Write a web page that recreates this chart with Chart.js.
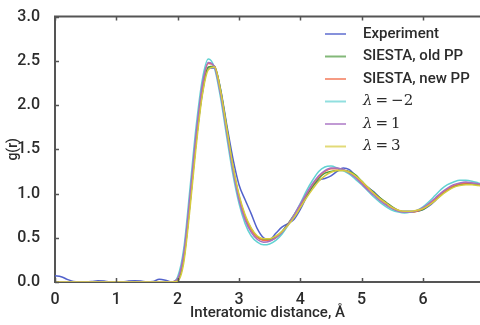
<!DOCTYPE html>
<html>
<head>
<meta charset="utf-8">
<script src="https://cdn.jsdelivr.net/npm/chart.js@4/dist/chart.umd.min.js"></script>
<style>
  html, body { margin: 0; padding: 0; background: #fff; }
  #wrap { width: 480px; height: 325px; }
</style>
</head>
<body>
<div id="wrap"><canvas id="myChart" width="480" height="325"></canvas></div>
<script>
// interatomic distance r (Å)
const rValues = [
  0.0,0.1,0.2,0.3,0.4,0.5,0.6,0.7,0.8,0.9,
  1.0,1.1,1.2,1.3,1.4,1.5,1.6,1.7,1.8,1.9,
  2.0,2.1,2.2,2.3,2.4,2.5,2.6,2.7,2.8,2.9,
  3.0,3.1,3.2,3.3,3.4,3.5,3.6,3.7,3.8,3.9,
  4.0,4.1,4.2,4.3,4.4,4.5,4.6,4.7,4.8,4.9,
  5.0,5.1,5.2,5.3,5.4,5.5,5.6,5.7,5.8,5.9,
  6.0,6.1,6.2,6.3,6.4,6.5,6.6,6.7,6.8,6.9,7.0
];

const experiment = [
  0.07,0.06,0.03,0.005,0,0,0.005,0.015,0.01,0,
  0,0,0.01,0.015,0.01,0,0.005,0.03,0.02,0,
  0.03,0.28,0.88,1.58,2.12,2.42,2.42,2.18,1.78,1.40,
  1.10,0.93,0.77,0.60,0.50,0.48,0.55,0.62,0.66,0.71,
  0.82,0.96,1.08,1.15,1.17,1.20,1.25,1.29,1.27,1.20,
  1.13,1.07,1.02,0.95,0.88,0.83,0.80,0.80,0.80,0.80,
  0.82,0.86,0.92,0.99,1.04,1.08,1.10,1.11,1.11,1.10,1.09
];
const siestaOld = [
  0,0,0,0,0,0,0,0,0,0,
  0,0,0,0,0,0,0,0,0,0,
  0.02,0.26,0.88,1.58,2.14,2.43,2.44,2.17,1.75,1.31,
  0.97,0.74,0.60,0.51,0.48,0.48,0.51,0.57,0.66,0.76,
  0.87,0.98,1.08,1.17,1.23,1.25,1.26,1.26,1.25,1.21,
  1.14,1.07,1.01,0.95,0.90,0.85,0.81,0.79,0.79,0.80,
  0.82,0.87,0.93,0.99,1.04,1.08,1.10,1.11,1.11,1.10,1.09
];
const siestaNew = [
  0,0,0,0,0,0,0,0,0,0,
  0,0,0,0,0,0,0,0,0,0,
  0.04,0.32,0.95,1.65,2.20,2.47,2.44,2.14,1.71,1.28,
  0.95,0.72,0.58,0.50,0.47,0.47,0.50,0.56,0.65,0.75,
  0.87,0.99,1.10,1.19,1.25,1.28,1.28,1.27,1.24,1.19,
  1.12,1.06,1.00,0.94,0.89,0.84,0.81,0.79,0.79,0.80,
  0.83,0.88,0.94,1.00,1.05,1.09,1.11,1.12,1.12,1.11,1.10
];
const lambdaM2 = [
  0,0,0,0,0,0,0,0,0,0,
  0,0,0,0,0,0,0,0,0,0,
  0.06,0.38,1.05,1.75,2.28,2.52,2.42,2.08,1.64,1.22,
  0.89,0.66,0.52,0.45,0.42,0.43,0.47,0.54,0.64,0.76,
  0.89,1.03,1.15,1.25,1.30,1.31,1.29,1.26,1.22,1.16,
  1.10,1.03,0.96,0.90,0.85,0.81,0.79,0.78,0.79,0.81,
  0.85,0.91,0.98,1.05,1.10,1.13,1.15,1.15,1.14,1.12,1.10
];
const lambda1 = [
  0,0,0,0,0,0,0,0,0,0,
  0,0,0,0,0,0,0,0,0,0,
  0.04,0.33,0.97,1.67,2.22,2.48,2.43,2.12,1.69,1.27,
  0.93,0.70,0.56,0.48,0.45,0.46,0.50,0.56,0.65,0.76,
  0.88,1.00,1.11,1.20,1.26,1.29,1.29,1.27,1.23,1.18,
  1.11,1.04,0.98,0.92,0.87,0.83,0.80,0.79,0.79,0.81,
  0.84,0.89,0.95,1.01,1.06,1.10,1.12,1.13,1.12,1.11,1.10
];
const lambda3 = [
  0,0,0,0,0,0,0,0,0,0,
  0,0,0,0,0,0,0,0,0,0,
  0.01,0.22,0.82,1.52,2.10,2.40,2.43,2.16,1.74,1.32,
  0.99,0.76,0.61,0.52,0.49,0.49,0.52,0.57,0.64,0.73,
  0.84,0.95,1.05,1.14,1.20,1.24,1.26,1.26,1.24,1.20,
  1.14,1.07,1.00,0.94,0.89,0.84,0.81,0.80,0.80,0.81,
  0.83,0.87,0.92,0.98,1.03,1.07,1.09,1.10,1.10,1.09,1.08
];

const seriesLabels = ['Experiment', 'SIESTA, old PP', 'SIESTA, new PP', 'λ = −2', 'λ = 1', 'λ = 3'];
const seriesData = [experiment, siestaOld, siestaNew, lambdaM2, lambda1, lambda3];
const seriesColors = ['#5262cc', '#4f9a40', '#f2704e', '#62d2d2', '#a66fc2', '#d6cb3e'];

const xTicks = [0, 1, 2, 3, 4, 5, 6];
const yTicks = [0.0, 0.5, 1.0, 1.5, 2.0, 2.5, 3.0];

const AXIS_COLOR = '#555';
const TEXT_COLOR = '#2b2b2b';
const FONT = "Roboto, 'DejaVu Sans', sans-serif";

// ticks pointing inward + top spine + legend, matplotlib style
const decorations = {
  id: 'decorations',
  afterDraw(chart) {
    const ctx = chart.ctx;
    const area = chart.chartArea;
    const xs = chart.scales.x, ys = chart.scales.y;
    ctx.save();
    ctx.strokeStyle = AXIS_COLOR;
    ctx.lineWidth = 2;
    ctx.beginPath();
    ctx.moveTo(area.left - 1, area.top);
    ctx.lineTo(area.right, area.top);
    ctx.stroke();
    ctx.lineWidth = 1.5;
    ctx.beginPath();
    xTicks.forEach(v => {
      const px = Math.round(xs.getPixelForValue(v)) + 0.5;
      ctx.moveTo(px, area.bottom);
      ctx.lineTo(px, area.bottom - 4);
      ctx.moveTo(px, area.top);
      ctx.lineTo(px, area.top + 4);
    });
    yTicks.forEach(v => {
      const py = Math.round(ys.getPixelForValue(v)) + 0.5;
      ctx.moveTo(area.left, py);
      ctx.lineTo(area.left + 4, py);
    });
    ctx.stroke();

    // legend
    const rowY = [34, 56.5, 79, 101.5, 124, 146.5];
    seriesLabels.forEach((lab, i) => {
      const y = rowY[i];
      ctx.strokeStyle = seriesColors[i];
      ctx.globalAlpha = 0.7;
      ctx.lineWidth = 2;
      ctx.beginPath();
      ctx.moveTo(325, y);
      ctx.lineTo(346, y);
      ctx.stroke();
      ctx.globalAlpha = 1;
      ctx.fillStyle = TEXT_COLOR;
      ctx.textBaseline = 'middle';
      ctx.textAlign = 'left';
      if (lab.startsWith('λ')) {
        ctx.font = "italic 15px 'DejaVu Serif', serif";
        ctx.fillText('λ', 363, y);
        const w = ctx.measureText('λ').width;
        ctx.font = "15px 'DejaVu Serif', serif";
        ctx.fillText(lab.slice(1).replace(/ /g, '\u2009'), 363 + w, y);
      } else {
        ctx.font = "500 15px " + FONT;
        ctx.fillText(lab, 363, y);
      }
    });
    ctx.restore();
  }
};

let myChart;

const setup = () => {
  const context = document.getElementById('myChart').getContext('2d');

  myChart = new Chart(context, {
    type: 'line',
    data: {
      datasets: seriesData.map((d, i) => ({
        label: seriesLabels[i],
        data: d.map((g, k) => ({ x: rValues[k], y: g })),
        borderColor: seriesColors[i],
        borderWidth: 1.5,
        pointRadius: 0,
        fill: false,
        cubicInterpolationMode: 'monotone',
        order: seriesData.length - i
      }))
    },
    options: {
      responsive: false,
      animation: false,
      layout: { padding: { top: 14, right: 0, left: 0, bottom: 0 } },
      plugins: {
        legend: { display: false },
        tooltip: { enabled: false }
      },
      scales: {
        x: {
          type: 'linear',
          min: 0,
          max: 6.93,
          afterBuildTicks: s => { s.ticks = xTicks.map(v => ({ value: v })); },
          afterFit: s => { s.height = 43; },
          grid: { display: false },
          border: { display: true, color: AXIS_COLOR, width: 2 },
          ticks: { color: TEXT_COLOR, font: { family: FONT, size: 16, weight: '500' }, padding: 0, maxRotation: 0 },
          title: {
            display: true,
            text: 'Interatomic distance, Å',
            color: TEXT_COLOR,
            font: { family: FONT, size: 15, weight: '500' },
            padding: { top: 0, bottom: 3 }
          }
        },
        y: {
          min: 0,
          max: 3,
          afterBuildTicks: s => { s.ticks = yTicks.map(v => ({ value: v })); },
          afterFit: s => { s.width = 55; },
          grid: { display: false },
          border: { display: true, color: AXIS_COLOR, width: 2 },
          ticks: {
            color: TEXT_COLOR,
            font: { family: FONT, size: 16, weight: '500' },
            padding: 7,
            callback: v => v.toFixed(1)
          },
          title: {
            display: true,
            text: 'g(r)',
            color: TEXT_COLOR,
            font: { family: FONT, size: 14, weight: '500' },
            padding: { top: 5, bottom: 0 }
          }
        }
      }
    },
    plugins: [decorations]
  });
};

window.addEventListener('DOMContentLoaded', setup);
</script>
</body>
</html>
